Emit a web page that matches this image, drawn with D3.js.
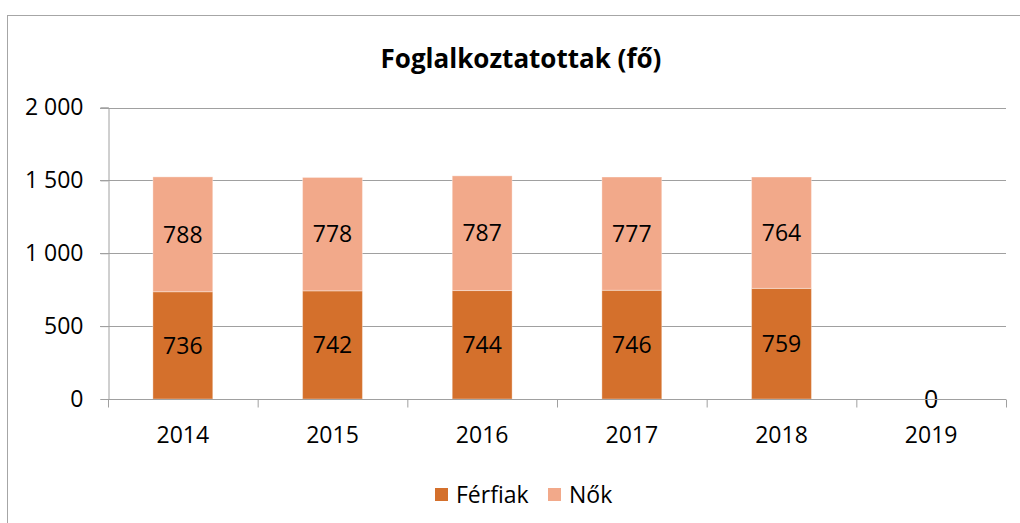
<!DOCTYPE html>
<html><head><meta charset="utf-8">
<script src="https://cdn.jsdelivr.net/npm/d3@7"></script>
<style>body{margin:0;background:#fff}svg{display:block}</style>
</head><body>
<script>
const categories = ["2014","2015","2016","2017","2018","2019"];
const ferfiak = [736,742,744,746,759,0];
const nok = [788,778,787,777,764,0];
const seriesNames = ["Férfiak","Nők"];
const seriesColors = ["#D4702C","#F2A98A"];
const yTicks = [0,500,1000,1500,2000];
const title = "Foglalkoztatottak (fő)";

const W=1020,H=523;
const font="'Open Sans', sans-serif";
const svg=d3.select("body").append("svg").attr("width",W).attr("height",H);
svg.append("rect").attr("x",7.5).attr("y",15.5).attr("width",1030).attr("height",530)
  .attr("fill","#fff").attr("stroke","#a6a6a6").attr("stroke-width",1);

const x=d3.scaleBand().domain(categories).range([108,1006]).paddingInner(0.6).paddingOuter(0.3);
const xb=d3.scaleBand().domain(categories).range([108,1006]);
const y=d3.scaleLinear().domain([0,2000]).range([399,107.5]);
const fmt=v=>d3.format(",")(v).replace(/,/g," ");

// gridlines
svg.append("g").selectAll("line").data(yTicks.filter(t=>t>0)).join("line")
  .attr("x1",100).attr("x2",1006).attr("y1",d=>Math.round(y(d))+0.5).attr("y2",d=>Math.round(y(d))+0.5)
  .attr("stroke","#a0a0a0").attr("stroke-width",1);
// y axis
const ya=svg.append("g").attr("transform","translate(108.5,0)")
  .call(d3.axisLeft(y).tickValues(yTicks).tickFormat(fmt).tickSize(8).tickPadding(17));
ya.select(".domain").attr("stroke","#a0a0a0");
ya.selectAll(".tick line").attr("stroke","#a0a0a0");
ya.selectAll(".tick text").attr("font-family",font).attr("font-size",23).attr("fill","#000");

// stacked data
const stackData=categories.map((c,i)=>({cat:c,Férfiak:ferfiak[i],Nők:nok[i]}));
const stack=d3.stack().keys(seriesNames)(stackData);
const g=svg.append("g");
stack.forEach((s,si)=>{
  g.append("g").selectAll("rect").data(s).join("rect")
    .attr("x",d=>x(d.data.cat)).attr("width",x.bandwidth())
    .attr("y",d=>y(d[1])).attr("height",d=>y(d[0])-y(d[1]))
    .attr("fill",seriesColors[si]).attr("stroke","rgba(255,255,255,0.35)").attr("stroke-width",1);
});
// x axis
const xa=svg.append("g").attr("transform","translate(0,399.5)");
xa.append("line").attr("x1",108).attr("x2",1006).attr("stroke","#a0a0a0");
xa.selectAll("line.t").data(categories.concat(["end"])).join("line").attr("class","t")
  .attr("x1",(d,i)=>i<categories.length?xb(d)+0.5:1006.5).attr("x2",(d,i)=>i<categories.length?xb(d)+0.5:1006.5)
  .attr("y1",0).attr("y2",8).attr("stroke","#a0a0a0");
xa.selectAll("text").data(categories).join("text")
  .attr("x",d=>xb(d)+xb.bandwidth()/2).attr("y",43).attr("text-anchor","middle")
  .attr("font-family",font).attr("font-size",23).text(d=>d);

// labels
stack.forEach((s,si)=>{
  g.append("g").selectAll("text").data(s.filter(d=>d.data[s.key]>0)).join("text")
    .attr("x",d=>x(d.data.cat)+x.bandwidth()/2).attr("y",d=>(y(d[0])+y(d[1]))/2)
    .attr("dy","0.36em").attr("text-anchor","middle").attr("font-family",font).attr("font-size",23)
    .text(d=>d.data[s.key]);
});
// zero label for empty category
const zeroCats=stackData.filter(d=>d.Férfiak+d.Nők===0);
g.append("g").selectAll("text").data(zeroCats).join("text")
  .attr("x",d=>x(d.cat)+x.bandwidth()/2).attr("y",y(0)).attr("dy","0.36em")
  .attr("text-anchor","middle").attr("font-family",font).attr("font-size",25).text("0");

// title
svg.append("text").attr("x",521).attr("y",68).attr("text-anchor","middle")
  .attr("font-family",font).attr("font-weight","bold").attr("font-size",26).text(title);

// legend
const lg=svg.append("g");
const lx=[435,548];
seriesNames.forEach((n,i)=>{
  lg.append("rect").attr("x",lx[i]).attr("y",488).attr("width",13).attr("height",13).attr("fill",seriesColors[i]);
  lg.append("text").attr("x",lx[i]+21).attr("y",494.5).attr("dy","0.36em")
    .attr("font-family",font).attr("font-size",23).text(n);
});
</script>
</body></html>
